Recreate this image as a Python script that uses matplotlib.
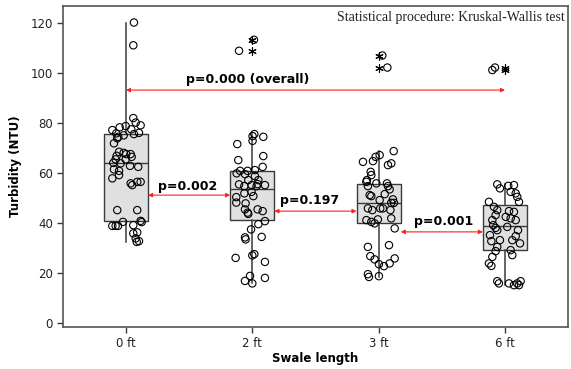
import matplotlib
matplotlib.use('Agg')
import matplotlib.pyplot as plt

# swale length groups and turbidity readings (NTU)
groups = ['0 ft', '2 ft', '3 ft', '6 ft']

turb_0ft = [120, 110.9, 81.8, 80, 78.9, 77.3, 78.6, 78.1, 77, 75.7, 74.3, 74.9, 75.4, 75.9,
            71.7, 73.7, 68.3, 67.9, 67.4, 67.4, 66.7, 65.3, 65.3, 66.3, 63.7, 63.9, 61.3,
            60.7, 62.7, 62.3, 57.7, 59, 56.3, 56.3, 55, 55.7, 45, 45, 40.3, 40.7, 40.2,
            38.7, 38.7, 38.7, 39, 35.7, 36.1, 33.7, 32.3, 32.6]
jit_0ft = [0.063, 0.058, 0.058, 0.077, 0.116, 0.042, -0.002, -0.05, -0.108, -0.077, -0.061,
           -0.018, 0.063, 0.103, -0.095, -0.069, -0.055, -0.018, 0.002, 0.037, -0.074, -0.082,
           -0.002, 0.045, -0.042, -0.1, -0.095, -0.055, 0.032, 0.097, -0.108, -0.055, 0.089,
           0.116, 0.05, 0.037, -0.069, 0.089, -0.024, 0.116, 0.124, -0.108, -0.082, -0.063,
           0.058, 0.058, 0.089, 0.077, 0.085, 0.103]

turb_2ft = [113.1, 108.7, 75.4, 74.6, 74.3, 72.7, 71.4, 66.6, 65.0, 62.3, 61.0, 60.7, 60.7,
            59.7, 59.4, 58.6, 57.0, 57.0, 55.3, 55.0, 55.4, 55.0, 54.6, 54.6, 52.3, 51.7,
            50.6, 50.2, 48.0, 47.7, 45.3, 45.3, 44.6, 44.0, 43.5, 40.6, 39.4, 37.3, 34.3,
            34.1, 33.3, 27.4, 26.9, 25.9, 24.3, 18.7, 17.9, 16.7, 15.7]
jit_2ft = [0.013, -0.105, 0.016, 0.002, 0.087, 0.002, -0.119, 0.087, -0.111, 0.082, 0.021,
           -0.097, -0.037, -0.124, -0.058, 0.021, -0.032, 0.048, -0.105, -0.006, 0.042, 0.1,
           -0.063, 0.034, -0.006, -0.063, 0.008, -0.127, -0.127, -0.053, -0.058, 0.042, 0.082,
           -0.037, -0.032, 0.1, 0.048, -0.01, 0.074, -0.058, -0.053, 0.016, 0.0, -0.132, 0.1,
           -0.018, 0.1, -0.058, 0.0]

turb_3ft = [106.8, 102, 68.6, 67, 66.3, 64.3, 64.6, 63, 63.7, 60.3, 59, 57, 56.3, 55.7, 55.7,
            54.6, 54.6, 53.3, 51, 50.6, 51.4, 49.3, 49, 47.9, 47.9, 45.7, 45, 45.7, 45.7, 45,
            41, 40.3, 39.7, 41.3, 41.7, 37.7, 30.3, 31, 26.6, 25.3, 23.4, 22.6, 23.7, 25.7,
            19.4, 18.3, 18.6]
jit_3ft = [0.029, 0.069, 0.119, 0.008, -0.024, -0.124, -0.045, 0.074, 0.1, -0.063, -0.058,
           -0.093, -0.097, -0.018, 0.066, -0.085, 0.074, 0.087, -0.071, -0.058, 0.048, 0.113,
           0.008, 0.121, 0.1, -0.085, -0.05, 0.013, 0.034, 0.093, -0.097, -0.058, -0.032,
           -0.006, 0.1, 0.127, -0.085, 0.082, -0.066, -0.032, 0.002, 0.042, 0.087, 0.127,
           -0.085, -0.077, 0.002]

turb_6ft = [101, 102, 55.3, 53.7, 54.7, 55, 52.3, 51.7, 50.3, 48.3, 48.3, 46.3, 45, 44.6,
            44.3, 43, 42.3, 41.7, 41, 41, 39, 37.9, 38.3, 37, 37, 35, 33, 33, 31.7, 34.6,
            32.6, 30.3, 28.6, 29, 26.3, 27, 23.7, 22.7, 16.6, 15.7, 15.7, 15, 15.7, 16.6, 15]
jit_6ft = [-0.1, -0.079, -0.061, -0.04, 0.026, 0.071, 0.045, 0.085, 0.097, 0.111, -0.127,
           -0.087, -0.061, 0.032, 0.071, -0.074, 0.006, 0.045, 0.085, -0.1, -0.093, -0.074,
           0.018, 0.103, -0.061, -0.119, -0.04, 0.058, 0.119, 0.085, -0.108, -0.061, -0.074,
           0.045, -0.1, 0.058, -0.127, -0.108, -0.061, -0.048, 0.032, 0.071, 0.097, 0.124,
           0.111]

# boxplot summary as drawn (Minitab quartiles)
q1 = [40.6, 41.0, 39.7, 29.0]
med = [63.7, 53.3, 47.7, 38.7]
q3 = [75.3, 60.7, 55.4, 47.0]
whis_lo = [32.3, 15.7, 18.3, 15.0]
whis_hi = [120.0, 75.4, 68.6, 55.3]
outliers = [[], [108.7, 113.1], [102.0, 106.8], [101.0, 102.0]]

# Kruskal-Wallis p-values between neighbouring groups
p_labels = ['p=0.002', 'p=0.197', 'p=0.001']
p_overall = 'p=0.000 (overall)'

turb = [turb_0ft, turb_2ft, turb_3ft, turb_6ft]
jit = [jit_0ft, jit_2ft, jit_3ft, jit_6ft]

plt.rcParams['font.family'] = 'DejaVu Sans'

fig = plt.figure(figsize=(5.71, 3.69), dpi=100)
ax = fig.add_axes([0.110, 0.114, 0.885, 0.869])

stats = []
for i in range(len(groups)):
    stats.append({'med': med[i], 'q1': q1[i], 'q3': q3[i],
                  'whislo': whis_lo[i], 'whishi': whis_hi[i],
                  'fliers': outliers[i], 'label': groups[i]})

box_w = 0.35
ax.bxp(stats, positions=range(len(groups)), widths=box_w, patch_artist=True,
       showcaps=False,
       boxprops=dict(facecolor='#e0e0e0', edgecolor='#3a3a3a', linewidth=1.0),
       medianprops=dict(color='#3a3a3a', linewidth=1.0),
       whiskerprops=dict(color='#3a3a3a', linewidth=1.1),
       flierprops=dict(marker=(6, 2, 0), markersize=6, markeredgecolor='black',
                       markerfacecolor='none', markeredgewidth=0.8, linestyle='none'))

for i in range(len(groups)):
    xs = [i + j for j in jit[i]]
    ax.scatter(xs, turb[i], s=28, facecolors='none', edgecolors='black',
               linewidths=0.8, zorder=3)

red = '#ff2020'
arrow_kw = dict(arrowstyle='<|-|>', color=red, lw=0.8, mutation_scale=6,
                shrinkA=0, shrinkB=0)

# overall comparison
ax.annotate('', xy=(0, 93), xytext=(3, 93), arrowprops=arrow_kw)
ax.text(0.966, 97.4, p_overall, ha='center', va='center', fontsize=9, fontweight='bold')

# pairwise comparisons between neighbouring boxes
pair_y = [51.0, 44.6, 36.3]
text_pos = [(0.49, 54.6), (1.457, 49.0), (2.512, 40.3)]
for i in range(3):
    ax.annotate('', xy=(i + box_w / 2, pair_y[i]), xytext=(i + 1 - box_w / 2, pair_y[i]),
                arrowprops=arrow_kw)
    ax.text(text_pos[i][0], text_pos[i][1], p_labels[i], ha='center', va='center',
            fontsize=9, fontweight='bold')

ax.text(0.993, 0.965, 'Statistical procedure: Kruskal-Wallis test', transform=ax.transAxes,
        ha='right', va='center', fontsize=10, family='Liberation Serif', color='#222222')

ax.set_xlim(-0.5, 3.5)
ax.set_ylim(-1.7, 126.5)
ax.set_yticks(range(0, 121, 20))
ax.set_xticks(range(len(groups)))
ax.set_xticklabels(groups)
ax.tick_params(direction='out', length=4, width=1, color='#3a3a3a',
               labelsize=8.5, labelcolor='#222222', pad=3)
for s in ax.spines.values():
    s.set_color('#555555')
    s.set_linewidth(1.2)

ax.set_xlabel('Swale length', fontsize=8.5, fontweight='bold', labelpad=2)
ax.set_ylabel('Turbidity (NTU)', fontsize=8.5, fontweight='bold', labelpad=6)

fig.savefig('out.png', dpi=100)
